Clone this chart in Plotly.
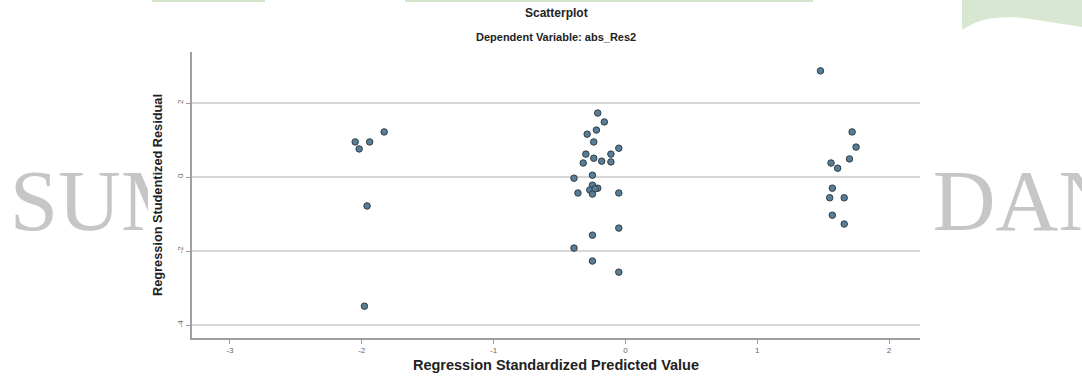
import plotly.graph_objects as go

W, H = 1082, 377

# ---- data ----
pred_value = [
    -1.83, -2.05, -2.02, -1.94, -1.96, -1.98,
    -0.21, -0.16, -0.22, -0.29, -0.24, -0.05, -0.30, -0.24, -0.11, -0.18,
    -0.11, -0.32, -0.39, -0.25, -0.25, -0.21, -0.27, -0.23, -0.36, -0.25,
    -0.05, -0.05, -0.25, -0.39, -0.25, -0.05,
    1.48, 1.72, 1.75, 1.70, 1.56, 1.61, 1.57, 1.55, 1.66, 1.57, 1.66,
]
stud_resid = [
    1.22, 0.95, 0.76, 0.95, -0.78, -3.49,
    1.73, 1.49, 1.27, 1.16, 0.95, 0.78, 0.62, 0.51, 0.62, 0.43,
    0.41, 0.38, -0.03, 0.05, -0.22, -0.30, -0.35, -0.32, -0.43, -0.46,
    -0.43, -1.38, -1.57, -1.92, -2.27, -2.57,
    2.87, 1.22, 0.81, 0.49, 0.38, 0.24, -0.30, -0.56, -0.56, -1.03, -1.27,
]
x_ticks = [-3, -2, -1, 0, 1, 2]
y_ticks = [-4, -2, 0, 2]
title_text = "Scatterplot"
subtitle_text = "Dependent Variable: abs_Res2"
x_title = "Regression Standardized Predicted Value"
y_title = "Regression Studentized Residual"
watermark_left = "SUM"
watermark_right = "DAN"


def px(x):
    return x / W


def py(y):
    return 1 - y / H


fig = go.Figure()

wm_font = dict(family="Liberation Serif", size=87, color="#c6c6c6")
fig.add_trace(go.Scatter(x=[104], y=[208.5], mode="text", text=[watermark_left],
                         textfont=wm_font, textposition="middle center",
                         cliponaxis=True, hoverinfo="skip", showlegend=False,
                         xaxis="x", yaxis="y"))
fig.add_trace(go.Scatter(x=[1027], y=[208.5], mode="text", text=[watermark_right],
                         textfont=wm_font, textposition="middle center",
                         cliponaxis=True, hoverinfo="skip", showlegend=False,
                         xaxis="x2", yaxis="y2"))

fig.add_trace(go.Scatter(
    x=pred_value, y=stud_resid, mode="markers",
    marker=dict(size=6.5, color="#587d96", line=dict(color="#2f3e48", width=1)),
    xaxis="x3", yaxis="y3", showlegend=False, name="",
))

hidden = dict(visible=False, showgrid=False, zeroline=False, fixedrange=True)

fig.update_layout(
    width=W, height=H,
    margin=dict(l=0, r=0, t=0, b=0, pad=0),
    paper_bgcolor="white", plot_bgcolor="white",
    font=dict(family="Liberation Sans, Arial", color="#222"),
    xaxis=dict(domain=[0, px(148)], range=[0, 148], anchor="y", **hidden),
    yaxis=dict(domain=[0, 1], range=[H, 0], anchor="x", **hidden),
    xaxis2=dict(domain=[px(930), 1], range=[930, W], anchor="y2", **hidden),
    yaxis2=dict(domain=[0, 1], range=[H, 0], anchor="x2", **hidden),
    xaxis3=dict(
        domain=[px(192), px(920)], range=[-3.288, 2.235], anchor="y3",
        tickvals=x_ticks, ticktext=[str(v) for v in x_ticks],
        ticks="outside", ticklen=4, tickcolor="#9a9a9a", tickwidth=1,
        showline=True, linecolor="#a0a0a0", linewidth=1.5,
        showgrid=False, zeroline=False,
        tickfont=dict(size=8, color="#666"),
        title=dict(text=x_title, font=dict(size=14.5, weight="bold", color="#222"), standoff=6),
        automargin=False,
    ),
    yaxis3=dict(
        domain=[py(338), py(52)], range=[-4.35, 3.38], anchor="x3",
        tickvals=y_ticks, ticktext=[str(v) for v in y_ticks],
        ticks="outside", ticklen=4, tickcolor="#9a9a9a", tickwidth=1,
        showline=True, linecolor="#a0a0a0", linewidth=1.5,
        showgrid=True, gridcolor="#d6d6d6", gridwidth=1.5, zeroline=False,
        tickangle=-90, tickfont=dict(size=8, color="#666"),
        title=dict(text=y_title, font=dict(size=12.75, weight="bold", color="#222"), standoff=11),
        automargin=False,
    ),
    annotations=[
        dict(text=title_text, x=px(556), y=py(13), xref="paper", yref="paper",
             xanchor="center", yanchor="middle", showarrow=False,
             font=dict(size=12, weight="bold", color="#222")),
        dict(text=subtitle_text, x=px(556), y=py(37), xref="paper", yref="paper",
             xanchor="center", yanchor="middle", showarrow=False,
             font=dict(size=11, weight="bold", color="#222")),
    ],
    shapes=[
        dict(type="rect", xref="paper", yref="paper", layer="above",
             x0=px(152), x1=px(265), y0=py(2), y1=py(0),
             fillcolor="#d3e3cc", line=dict(width=0)),
        dict(type="rect", xref="paper", yref="paper", layer="above",
             x0=px(405), x1=px(813), y0=py(2), y1=py(0),
             fillcolor="#d3e3cc", line=dict(width=0)),
        dict(type="path", xref="paper", yref="paper", layer="above",
             path=(f"M {px(962)},{py(0)} L {px(962)},{py(30)} "
                   f"C {px(980)},{py(18)} {px(1000)},{py(15)} {px(1030)},{py(19)} "
                   f"C {px(1050)},{py(22)} {px(1070)},{py(25)} {px(1082)},{py(27)} "
                   f"L {px(1082)},{py(0)} Z"),
             fillcolor="#d8e7d2", line=dict(width=0)),
    ],
)

fig.write_html("out.html", config={"displayModeBar": False},
               post_script="document.body.style.margin='0';")
